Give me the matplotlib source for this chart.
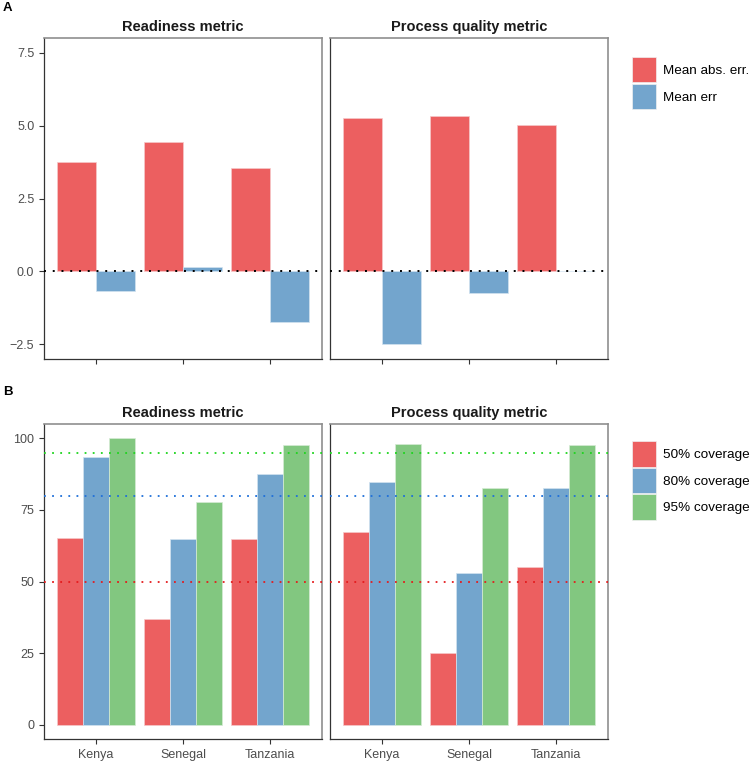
import numpy as np
import matplotlib
matplotlib.use("Agg")
import matplotlib.pyplot as plt
from matplotlib.patches import Patch

plt.rcParams["font.family"] = ["Liberation Sans", "DejaVu Sans"]

paesi = ["Kenya", "Senegal", "Tanzania"]
metriche = ["Readiness metric", "Process quality metric"]

# pannello A: errori
mae_readiness = [3.74, 4.43, 3.54]
me_readiness = [-0.67, 0.14, -1.74]
mae_process = [5.26, 5.31, 5.01]
me_process = [-2.47, -0.73, 0.02]
etichette_errori = ["Mean abs. err.", "Mean err"]

# pannello B: copertura
cov50_readiness = [65.2, 37.0, 64.9]
cov80_readiness = [93.5, 64.7, 87.5]
cov95_readiness = [100.0, 77.7, 97.5]
cov50_process = [67.4, 25.0, 55.0]
cov80_process = [84.8, 52.9, 82.5]
cov95_process = [97.9, 82.5, 97.5]
etichette_cov = ["50% coverage", "80% coverage", "95% coverage"]
livelli_cov = [50, 80, 95]

ROSSO = "#EC5F60"
BLU = "#73A5CD"
VERDE = "#82C780"
COLORI_LINEE = ["#E41A1C", "#1E6FD9", "#1ED41E"]

W, H = 750, 761
fig = plt.figure(figsize=(W / 100, H / 100), dpi=100)
fig.patch.set_facecolor("white")


def asse(x0, y0, x1, y1):
    return fig.add_axes([x0 / W, 1 - y1 / H, (x1 - x0) / W, (y1 - y0) / H])


def stile(ax, titolo, mostra_y):
    ax.set_title(titolo, fontsize=10.5, fontweight="bold", color="#1a1a1a", pad=5)
    for lato in ["top", "right"]:
        ax.spines[lato].set_color("#8f8f8f")
        ax.spines[lato].set_linewidth(1.2)
    for lato in ["left", "bottom"]:
        ax.spines[lato].set_color("#333333")
        ax.spines[lato].set_linewidth(0.9)
    ax.tick_params(axis="both", colors="#333333", labelcolor="#4d4d4d",
                   labelsize=9, length=3.5, width=0.8)
    if not mostra_y:
        ax.tick_params(axis="y", left=False, labelleft=False)
    ax.set_xlim(0.4, 3.6)
    ax.set_xticks([1, 2, 3])


def legenda(ax, colori, etichette, y):
    maniglie = [Patch(facecolor=c, edgecolor="#f0f0f0", linewidth=0.5) for c in colori]
    ax.legend(maniglie, etichette, loc="upper left", bbox_to_anchor=(1.085, y),
              frameon=False, fontsize=9.7, handlelength=1.8, handleheight=2.5,
              labelspacing=0.1, handletextpad=0.55, borderaxespad=0, borderpad=0)


x = np.arange(1, 4)

# --- A ---
dati_a = [(mae_readiness, me_readiness), (mae_process, me_process)]
pos_a = [(44, 38, 322, 359), (330, 38, 608, 359)]
for i, ((mae, me), pos) in enumerate(zip(dati_a, pos_a)):
    ax = asse(*pos)
    ax.bar(x - 0.225, mae, width=0.45, color=ROSSO, edgecolor="#f6c9c9", linewidth=0.5)
    ax.bar(x + 0.225, me, width=0.45, color=BLU, edgecolor="#d3e3f0", linewidth=0.5)
    ax.axhline(0, color="black", linestyle=(0, (1, 3.5)), linewidth=1.4, zorder=4)
    ax.set_ylim(-3, 8)
    ax.set_yticks([-2.5, 0, 2.5, 5, 7.5])
    ax.set_yticklabels(["\u22122.5", "0.0", "2.5", "5.0", "7.5"])
    stile(ax, metriche[i], i == 0)
    ax.set_xticklabels([])
    if i == 1:
        legenda(ax, [ROSSO, BLU], etichette_errori, 0.94)

# --- B ---
dati_b = [(cov50_readiness, cov80_readiness, cov95_readiness),
          (cov50_process, cov80_process, cov95_process)]
pos_b = [(44, 424, 322, 739), (330, 424, 608, 739)]
for i, (serie, pos) in enumerate(zip(dati_b, pos_b)):
    ax = asse(*pos)
    for j, (valori, colore, bordo) in enumerate(zip(serie, [ROSSO, BLU, VERDE],
                                                     ["#f6c9c9", "#d3e3f0", "#d6ecd5"])):
        ax.bar(x + (j - 1) * 0.3, valori, width=0.3, color=colore, edgecolor=bordo, linewidth=0.5)
    for livello, colore in zip(livelli_cov, COLORI_LINEE):
        ax.axhline(livello, color=colore, linestyle=(0, (1, 3.5)), linewidth=1.3, zorder=4)
    ax.set_ylim(-5, 105)
    ax.set_yticks([0, 25, 50, 75, 100])
    stile(ax, metriche[i], i == 0)
    ax.set_xticklabels(paesi)
    if i == 1:
        legenda(ax, [ROSSO, BLU, VERDE], etichette_cov, 0.945)

fig.text(3 / W, 1 - 8 / H, "A", fontsize=9.5, fontweight="bold", va="center", ha="left")
fig.text(3 / W, 1 - 392 / H, "B", fontsize=9.5, fontweight="bold", va="center", ha="left")

fig.savefig("out.png", dpi=100)
